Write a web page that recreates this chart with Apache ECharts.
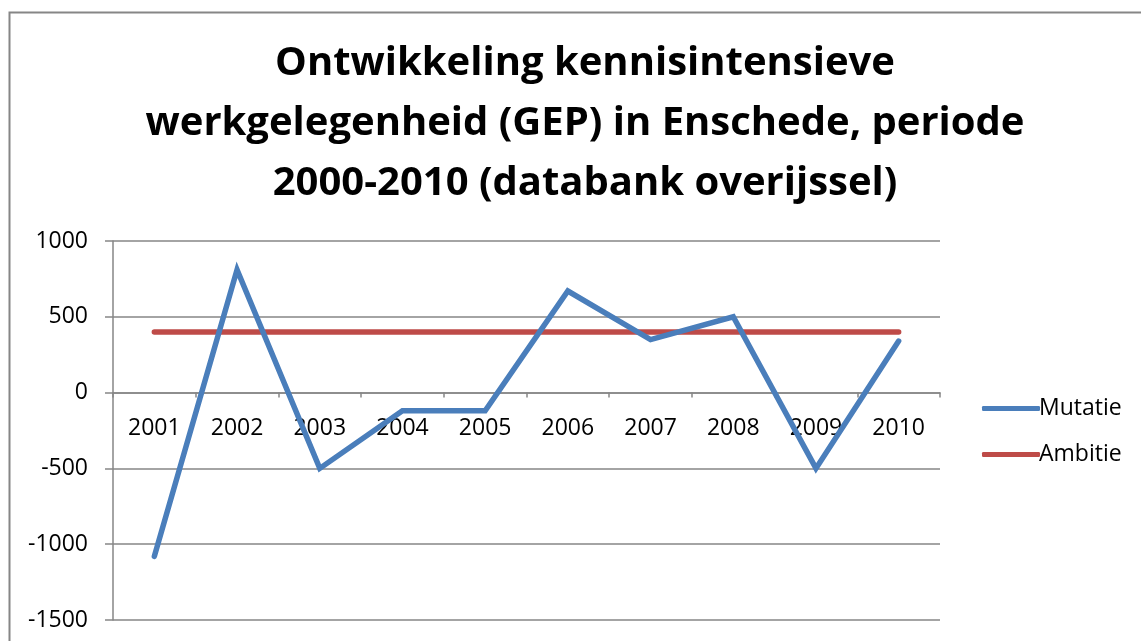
<!DOCTYPE html>
<html>
<head>
<meta charset="utf-8">
<script src="https://cdn.jsdelivr.net/npm/echarts@6/dist/echarts.min.js"></script>
<style>
html, body {margin: 0; padding: 0; background: #fff;}
#chart {width: 1141px; height: 641px;}
</style>
</head>
<body>
<div id="chart"></div>
<script>
var years   = ['2001', '2002', '2003', '2004', '2005', '2006', '2007', '2008', '2009', '2010'];
var mutatie = [-1080, 810, -500, -120, -120, 670, 350, 500, -500, 340];
var ambitie = [400, 400, 400, 400, 400, 400, 400, 400, 400, 400];

var titleText = 'Ontwikkeling kennisintensieve\nwerkgelegenheid (GEP) in Enschede, periode\n2000-2010 (databank overijssel)';

var fontFamily = '"Open Sans", sans-serif';
var gridColor  = '#868686';
var labelStyle = {color: '#000', fontSize: 23, fontFamily: fontFamily};

// the category axis sits on the zero line: 1500 of 2500 units above the bottom of a 379px plot
var zeroOffset = -379 * 1500 / 2500;

var chart  = echarts.init(document.getElementById('chart'));
var option = {
    animation: false,
    graphic: [
        {
            type: 'rect',
            shape: {x: 9.5, y: 12.5, width: 1300, height: 800},
            style: {fill: 'none', stroke: gridColor, lineWidth: 2},
            silent: true
        }
    ],
    title: {
        text: titleText,
        left: 580,
        top: 29,
        textAlign: 'center',
        textStyle: {
            color: '#000',
            fontSize: 40,
            fontWeight: 'bold',
            fontFamily: fontFamily,
            lineHeight: 60
        }
    },
    legend: {
        left: 977,
        top: 392,
        orient: 'vertical',
        icon: 'roundRect',
        itemGap: 23,
        itemWidth: 58,
        itemHeight: 5,
        textStyle: {color: '#000', fontSize: 23, fontFamily: fontFamily, padding: [0, 0, 0, -6]},
        data: ['Mutatie', 'Ambitie']
    },
    grid: {left: 113, right: 201, top: 241, bottom: 21, containLabel: false, outerBoundsMode: 'none'},
    xAxis: {
        type: 'category',
        data: years,
        boundaryGap: true,
        position: 'bottom',
        offset: zeroOffset,
        axisLine: {onZero: false, lineStyle: {color: gridColor, width: 1.5}},
        axisTick: {show: true, length: 5, lineStyle: {color: gridColor, width: 1.5}},
        axisLabel: Object.assign({margin: 24}, labelStyle),
        splitLine: {show: false}
    },
    yAxis: {
        type: 'value',
        min: -1500,
        max: 1000,
        interval: 500,
        axisLine: {show: true, lineStyle: {color: gridColor, width: 1.5}},
        axisTick: {show: true, length: 8, lineStyle: {color: gridColor, width: 1.5}},
        axisLabel: Object.assign({margin: 25, formatter: function(v) { return String(v); }}, labelStyle),
        splitLine: {show: true, lineStyle: {color: gridColor, width: 1.5}}
    },
    series: [
        {
            name: 'Mutatie',
            type: 'line',
            data: mutatie,
            symbol: 'none',
            color: '#4a7ebb',
            lineStyle: {color: '#4a7ebb', width: 5.5, cap: 'round', join: 'miter'},
            z: 3
        },
        {
            name: 'Ambitie',
            type: 'line',
            data: ambitie,
            symbol: 'none',
            color: '#be4b48',
            lineStyle: {color: '#be4b48', width: 5.5, cap: 'round'},
            z: 2
        }
    ]
};
chart.setOption(option);
</script>
</body>
</html>
